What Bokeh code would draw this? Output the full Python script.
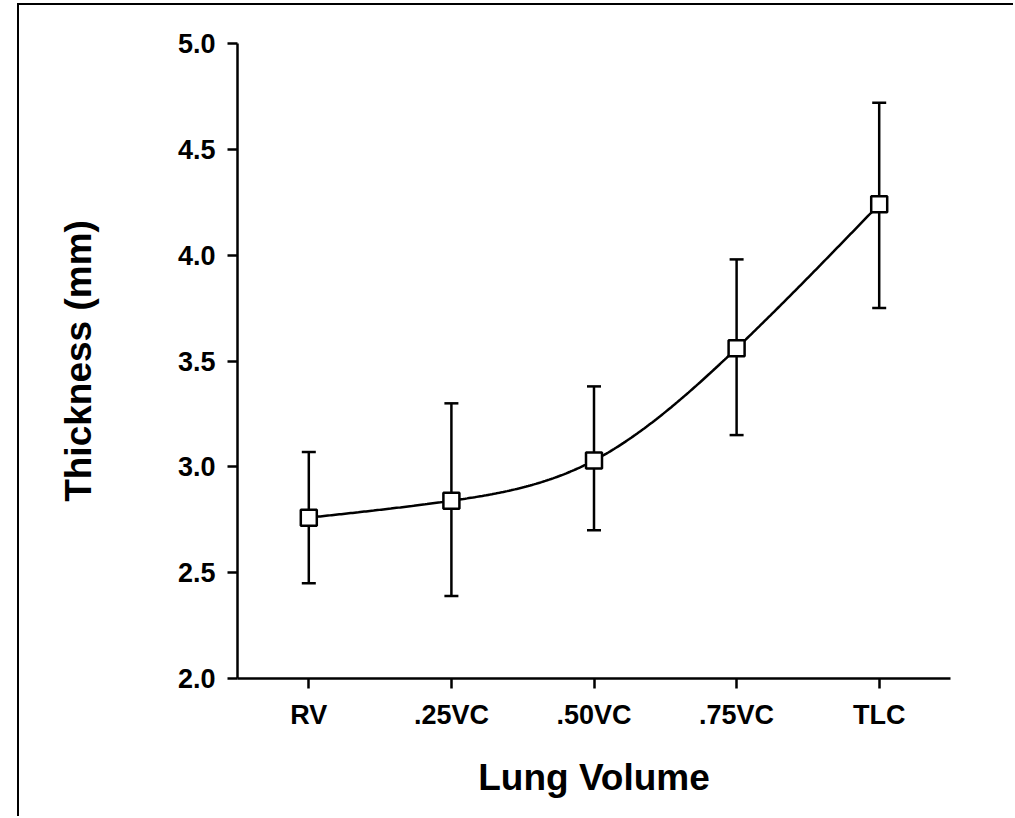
import numpy as np
from bokeh.plotting import figure
from bokeh.models import Range1d, FixedTicker, Whisker, ColumnDataSource, TeeHead
from bokeh.embed import file_html
from bokeh.resources import INLINE

# ---- data ----
categories = ["RV", ".25VC", ".50VC", ".75VC", "TLC"]
thickness_mean = [2.76, 2.84, 3.03, 3.56, 4.24]
thickness_upper = [3.07, 3.30, 3.38, 3.98, 4.72]
thickness_lower = [2.45, 2.39, 2.70, 3.15, 3.75]
y_ticks = [2.0, 2.5, 3.0, 3.5, 4.0, 4.5, 5.0]
y_tick_labels = ["2.0", "2.5", "3.0", "3.5", "4.0", "4.5", "5.0"]

x_pos = [i + 0.5 for i in range(len(categories))]

# smooth (natural cubic spline) curve through the means, for display only
def natural_spline(xs, ys, n=300):
    xs = np.asarray(xs, float)
    ys = np.asarray(ys, float)
    k = len(xs)
    h = np.diff(xs)
    A = np.zeros((k, k))
    b = np.zeros(k)
    A[0, 0] = 1.0
    A[-1, -1] = 1.0
    for i in range(1, k - 1):
        A[i, i - 1] = h[i - 1]
        A[i, i] = 2 * (h[i - 1] + h[i])
        A[i, i + 1] = h[i]
        b[i] = 6 * ((ys[i + 1] - ys[i]) / h[i] - (ys[i] - ys[i - 1]) / h[i - 1])
    M = np.linalg.solve(A, b)
    xx = np.linspace(xs[0], xs[-1], n)
    idx = np.clip(np.searchsorted(xs, xx) - 1, 0, k - 2)
    x0 = xs[idx]; x1 = xs[idx + 1]; hh = x1 - x0
    y0 = ys[idx]; y1 = ys[idx + 1]
    M0 = M[idx]; M1 = M[idx + 1]
    yy = (M0 * (x1 - xx) ** 3 / (6 * hh) + M1 * (xx - x0) ** 3 / (6 * hh)
          + (y0 / hh - M0 * hh / 6) * (x1 - xx) + (y1 / hh - M1 * hh / 6) * (xx - x0))
    return xx, yy

curve_x, curve_y = natural_spline(x_pos, thickness_mean)

FONT = "Liberation Sans"

p = figure(width=996, height=813, output_backend="svg", toolbar_location=None,
           x_range=Range1d(0, len(categories)), y_range=Range1d(2.0, 5.0),
           min_border_left=218, min_border_right=65, min_border_top=38, min_border_bottom=140)
p.margin = (5, 0, 0, 19)
p.styles = {"box-shadow": "-2px -2px 0 0 #000"}

p.outline_line_color = None
p.xgrid.visible = False
p.ygrid.visible = False
p.background_fill_color = "white"
p.border_fill_color = "white"

src = ColumnDataSource(dict(x=x_pos, mean=thickness_mean, upper=thickness_upper, lower=thickness_lower))

wh = Whisker(source=src, base="x", upper="upper", lower="lower", dimension="height",
             line_color="black", line_width=2.5,
             upper_head=TeeHead(size=14, line_color="black", line_width=2.5),
             lower_head=TeeHead(size=14, line_color="black", line_width=2.5),
             level="underlay")
p.add_layout(wh)

p.line(curve_x, curve_y, line_color="black", line_width=2.5)
p.scatter("x", "mean", source=src, marker="square", size=16, fill_color="white",
          line_color="black", line_width=2.5)

# axes
for ax in (p.xaxis[0], p.yaxis[0]):
    ax.axis_line_width = 2.5
    ax.axis_line_color = "black"
    ax.major_tick_line_width = 2.5
    ax.major_tick_line_color = "black"
    ax.major_tick_in = 0
    ax.major_tick_out = 10
    ax.minor_tick_line_color = None
    ax.major_label_text_font = FONT
    ax.major_label_text_font_style = "bold"
    ax.major_label_text_font_size = "27px"
    ax.major_label_text_color = "black"
    ax.axis_label_text_font = FONT
    ax.axis_label_text_font_style = "bold"
    ax.axis_label_text_font_size = "37px"
    ax.axis_label_text_color = "black"

p.xaxis[0].ticker = FixedTicker(ticks=x_pos)
p.xaxis[0].major_label_overrides = {x: c for x, c in zip(x_pos, categories)}
p.xaxis[0].axis_label = "Lung Volume"
p.xaxis[0].major_label_standoff = 11
p.xaxis[0].axis_label_standoff = 24

p.yaxis[0].ticker = FixedTicker(ticks=y_ticks)
p.yaxis[0].major_label_overrides = {t: l for t, l in zip(y_ticks, y_tick_labels)}
p.yaxis[0].axis_label = "Thickness (mm)"
p.yaxis[0].major_label_standoff = 12
p.yaxis[0].axis_label_standoff = 76

open("out.html", "w").write(file_html(p, INLINE))
